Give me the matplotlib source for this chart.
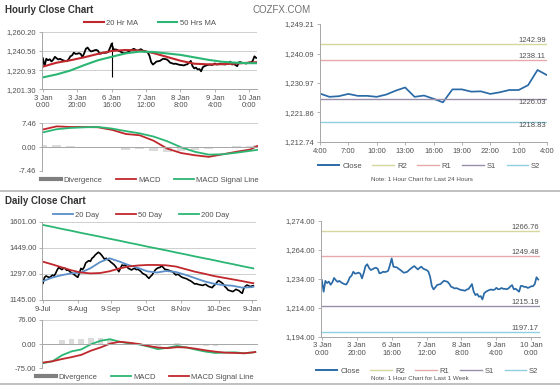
import matplotlib
matplotlib.use("Agg")
import matplotlib.pyplot as plt
import matplotlib.transforms as mtransforms
from matplotlib.lines import Line2D

plt.rcParams['font.family'] = ['Liberation Sans', 'DejaVu Sans']

# ---------------- hourly data: 3 Jan 0:00 .. 10 Jan 4:00 ----------------
hourly_close = [
    1233.0, 1225.0, 1232.5, 1231.0, 1232.0, 1229.8, 1231.5, 1234.5, 1233.0, 1231.8,
    1232.5, 1231.5, 1230.8, 1230.2, 1230.0, 1232.0, 1235.0, 1236.0, 1238.8, 1237.5,
    1237.7, 1238.2, 1237.5, 1234.2, 1238.0, 1242.7, 1244.0, 1241.5, 1240.0, 1240.5,
    1241.2, 1241.6, 1240.8, 1237.7, 1238.0, 1238.8, 1238.6, 1238.8, 1239.5, 1243.4,
    1248.0, 1242.3, 1242.0, 1241.8, 1240.8, 1240.0, 1239.0, 1238.1, 1238.4, 1238.8,
    1240.0, 1241.0, 1242.0, 1242.7, 1241.5, 1240.4, 1241.5, 1242.3, 1241.0, 1240.4,
    1240.0, 1239.0, 1235.5, 1229.0, 1226.6, 1228.0, 1229.6, 1230.0, 1230.3, 1231.5,
    1232.6, 1232.2, 1231.9, 1230.5, 1228.5, 1228.0, 1227.3, 1227.5, 1227.1, 1226.5,
    1226.2, 1226.0, 1225.7, 1226.5, 1226.9, 1228.5, 1230.3, 1225.0, 1222.7, 1223.5,
    1221.6, 1222.0, 1219.7, 1223.9, 1225.0, 1225.7, 1226.2, 1226.6, 1226.2, 1226.5,
    1227.7, 1226.7, 1226.9, 1227.6, 1227.0, 1227.0, 1226.7, 1227.4, 1228.6, 1229.6,
    1226.7, 1227.1, 1226.1, 1225.0, 1229.0, 1229.0, 1228.3, 1228.4, 1227.6, 1228.1,
    1228.8, 1228.8, 1230.3, 1235.0, 1233.4,
]
hourly_tick_pos = [0, 20, 40, 60, 80, 100, 120]
hourly_tick_labels = ["3 Jan\n0:00", "3 Jan\n20:00", "6 Jan\n16:00", "7 Jan\n12:00",
                      "8 Jan\n8:00", "9 Jan\n4:00", "10 Jan\n0:00"]
spike_idx, spike_low, spike_high = 40, 1213.5, 1250.0

ma_idx = [0, 8, 16, 24, 32, 40, 48, 56, 64, 72, 80, 88, 96, 104, 112, 120, 124]
ma20 = [1224.5, 1228.5, 1231.0, 1234.0, 1237.5, 1240.5, 1241.5, 1241.0, 1238.5,
        1234.5, 1230.5, 1227.5, 1226.8, 1227.0, 1227.5, 1228.5, 1229.0]
ma50 = [1213.5, 1216.5, 1220.5, 1226.0, 1231.0, 1234.5, 1238.0, 1239.8, 1239.5,
        1238.0, 1236.5, 1234.0, 1231.5, 1229.5, 1228.5, 1228.0, 1228.0]
h_macd = [5.5, 6.5, 6.3, 6.3, 6.2, 5.4, 4.1, 3.7, 2.0, -0.5, -1.9, -2.6, -3.1,
          -2.3, -1.5, -0.8, 0.3]
h_signal = [4.6, 5.6, 6.0, 6.2, 6.3, 5.8, 5.0, 4.3, 3.3, 1.8, -0.1, -1.5, -2.4,
            -2.3, -1.8, -1.2, -0.9]
h_div = [0.6, 0.5, 0.3, 0.1, -0.1, -0.4, -0.8, -0.6, -1.3, -1.6, -1.2, -1.0, -0.6,
         0.0, 0.3, 0.4, 0.5]

# last 24 hours (9 Jan 4:00 .. 10 Jan 4:00)
day_labels = ["4:00", "7:00", "10:00", "13:00", "16:00", "19:00", "22:00", "1:00", "4:00"]
pivots_24h = {"R2": 1242.99, "R1": 1238.11, "S1": 1226.03, "S2": 1218.83}
yt_24h = [1212.74, 1221.86, 1230.97, 1240.09, 1249.21]

pivots_wk = {"R2": 1266.76, "R1": 1249.48, "S1": 1215.19, "S2": 1197.17}
yt_wk = [1194, 1214, 1234, 1254, 1274]
yl_wk = ["1,194.00", "1,214.00", "1,234.00", "1,264.00", "1,274.00"]

# ---------------- daily data: 9 Jul .. 9 Jan ----------------
daily_close = [
    1242, 1277, 1285, 1280, 1276, 1282, 1290, 1285, 1300, 1320,
    1335, 1328, 1322, 1330, 1329, 1318, 1320, 1310, 1304, 1298,
    1291, 1284, 1277, 1300, 1329, 1322, 1335, 1360, 1368, 1374,
    1370, 1388, 1395, 1407, 1415, 1423, 1417, 1407, 1395, 1382,
    1388, 1380, 1374, 1365, 1358, 1350, 1339, 1325, 1310, 1330,
    1349, 1345, 1349, 1340, 1329, 1325, 1320, 1326, 1329, 1322,
    1324, 1318, 1310, 1300, 1295, 1291, 1280, 1271, 1282, 1291,
    1305, 1320, 1328, 1333, 1335, 1343, 1335, 1324, 1322, 1320,
    1316, 1312, 1310, 1300, 1291, 1295, 1291, 1283, 1277, 1274,
    1271, 1268, 1262, 1258, 1252, 1245, 1238, 1240, 1236, 1234,
    1232, 1230, 1234, 1236, 1228, 1223, 1220, 1217, 1228, 1236,
    1248, 1258, 1252, 1246, 1238, 1223, 1215, 1203, 1200, 1197,
    1194, 1200, 1207, 1203, 1199, 1190, 1184, 1213, 1225, 1232,
    1228, 1223, 1226, 1228,
]
daily_tick_pos = [0, 22, 43, 65, 87, 111, 132]
daily_tick_labels = ["9-Jul", "8-Aug", "9-Sep", "9-Oct", "8-Nov", "10-Dec", "9-Jan"]

d_idx = [0, 6, 12, 18, 24, 30, 36, 42, 48, 54, 60, 66, 72, 78, 84, 90, 96, 102,
         108, 114, 120, 126, 132, 133]
d_ma20 = [1255, 1276, 1290, 1300, 1305, 1330, 1365, 1388, 1370, 1349, 1332, 1312,
          1305, 1314, 1308, 1292, 1273, 1254, 1240, 1232, 1228, 1217, 1220, 1222]
d_ma50 = [1368, 1352, 1335, 1318, 1305, 1300, 1302, 1312, 1328, 1340, 1346, 1349,
          1349, 1347, 1340, 1325, 1310, 1298, 1285, 1275, 1265, 1255, 1244, 1243]
d_ma200 = [1582, 1571, 1559, 1548, 1536, 1525, 1514, 1502, 1491, 1479, 1468, 1456,
           1445, 1434, 1422, 1411, 1399, 1388, 1377, 1365, 1354, 1342, 1331, 1329]
d_macd = [-59, -53, -34, -22, -16, 0, 11, 16, 8, 3, 0, -7, -15, -11, -5, -10, -17,
          -23, -27, -26, -25, -28, -25, -24]
d_signal = [-57, -53, -46, -40, -33, -20, -10, 2, 8, 5, 1, -5, -10, -12, -9, -10,
            -14, -19, -23, -26, -27, -28, -25, -24]
d_div = [-2, 0, 12, 18, 17, 20, 21, 14, 0, -2, -1, -2, -5, 1, 4, 0, -3, -4, -4, 0,
         2, 0, 0, 0]

RED = "#c0282d"
GREEN = "#2bb673"
BLUE20 = "#5b8fc9"
CLOSE_BLUE = "#2a6aa6"
PIV_COLORS = {"R2": "#d6d69e", "R1": "#e6a9ab", "S1": "#9a8fa8", "S2": "#8fcfe0"}
TXT = "#505050"
GRID = "#c8c8c8"
FS = 5.5

W, H = 560, 385
fig = plt.figure(figsize=(W / 100, H / 100), dpi=100)


def add_ax(left, top, right, bottom):
    return fig.add_axes([left / W, 1 - bottom / H, (right - left) / W, (bottom - top) / H])


def style(ax, grid=True):
    for s in ["top", "right"]:
        ax.spines[s].set_visible(False)
    for s in ["left", "bottom"]:
        ax.spines[s].set_color("#a6a6a6")
        ax.spines[s].set_linewidth(0.7)
    ax.tick_params(labelsize=FS, colors=TXT, length=2.5, width=0.6, pad=1.5)
    ax.tick_params(axis="both", color="#a6a6a6")
    if grid:
        ax.yaxis.grid(True, color=GRID, lw=0.6)
        ax.set_axisbelow(True)


# ---- titles / separators ----
fig.text(5 / W, 1 - 10 / H, "Hourly Close Chart", fontsize=7, weight="bold",
         color="#333333", va="center")
fig.text(5 / W, 1 - 201 / H, "Daily Close Chart", fontsize=7, weight="bold",
         color="#333333", va="center")
fig.text(282 / W, 1 - 10 / H, "COZFX.COM", fontsize=7, color="#707070",
         ha="center", va="center")
fig.add_artist(Line2D([0, 1], [1 - 191 / H] * 2, color="#b5b5b5", lw=1.2))
fig.add_artist(Line2D([0, 1], [1 - 383.5 / H] * 2, color="#b5b5b5", lw=1.2))

# ---- hourly price with MAs ----
ax = add_ax(42, 31.7, 257, 89.3)
style(ax)
ax.plot(range(len(hourly_close)), hourly_close, color="black", lw=1.3)
ax.vlines(spike_idx, spike_low, spike_high, color="black", lw=0.8)
ax.plot(ma_idx, ma20, color=RED, lw=1.5)
ax.plot(ma_idx, ma50, color=GREEN, lw=1.5)
ax.set_ylim(1201.30, 1260.20)
ax.set_yticks([1201.30, 1220.93, 1240.56, 1260.20])
ax.set_yticklabels(["1,201.30", "1,220.93", "1,240.56", "1,260.20"])
ax.set_xlim(-0.5, 124.5)
ax.set_xticks(hourly_tick_pos)
ax.set_xticklabels(hourly_tick_labels, linespacing=1.1)
fig.legend([Line2D([], [], color=RED, lw=1.5), Line2D([], [], color=GREEN, lw=1.5)],
           ["20 Hr MA", "50 Hrs MA"], loc="center", bbox_to_anchor=(150 / W, 1 - 23 / H),
           ncol=2, frameon=False, fontsize=FS, handlelength=2.6, columnspacing=2.5,
           handletextpad=0.3, labelcolor=TXT)

# ---- hourly MACD ----
ax = add_ax(42, 123.3, 258, 170.7)
style(ax, grid=False)
ax.bar(ma_idx, h_div, width=5, color="#b0b0b0", alpha=0.45)
ax.plot(ma_idx, h_macd, color=RED, lw=1.3)
ax.plot(ma_idx, h_signal, color=GREEN, lw=1.3)
ax.axhline(7.46, color=GRID, lw=0.6)
ax.axhline(0, color="#a6a6a6", lw=0.7)
ax.set_ylim(-7.46, 7.46)
ax.set_yticks([-7.46, 0, 7.46])
ax.set_yticklabels(["-7.46", "0.00", "7.46"])
ax.set_xlim(-0.5, 124.5)
ax.set_xticks([])
ax.spines["bottom"].set_visible(False)
fig.legend([Line2D([], [], color="#7f7f7f", lw=3), Line2D([], [], color=RED, lw=1.3),
            Line2D([], [], color=GREEN, lw=1.3)],
           ["Divergence", "MACD", "MACD Signal Line"], loc="center",
           bbox_to_anchor=(150 / W, 1 - 180 / H), ncol=3, frameon=False, fontsize=FS,
           handlelength=2.6, columnspacing=1.8, handletextpad=0.3, labelcolor=TXT)


def pivot_chart(ax, x, y, pivots, above, color_close):
    style(ax, grid=False)
    ax.plot(x, y, color=color_close, lw=1.25)
    trans = mtransforms.blended_transform_factory(ax.transAxes, ax.transData)
    for name, val in pivots.items():
        ax.axhline(val, color=PIV_COLORS[name], lw=1.0)
        up = above[name]
        ax.text(0.995, val, f"{val:.2f}", transform=trans, ha="right",
                va="bottom" if up else "top", fontsize=FS, color=TXT)


# ---- last 24 hours ----
ax = add_ax(320, 24, 547, 142)
last24 = hourly_close[100:]
pivot_chart(ax, range(len(last24)), last24, pivots_24h,
            {"R2": True, "R1": True, "S1": False, "S2": False}, CLOSE_BLUE)
ax.set_ylim(yt_24h[0], yt_24h[-1])
ax.set_yticks(yt_24h)
ax.set_yticklabels([f"{v:,.2f}" for v in yt_24h])
ax.set_xlim(0, 24)
ax.set_xticks(range(0, 25, 3))
ax.set_xticklabels(day_labels)
handles = [Line2D([], [], color=CLOSE_BLUE, lw=1.4)] + \
          [Line2D([], [], color=PIV_COLORS[k], lw=1.0) for k in ["R2", "R1", "S1", "S2"]]
fig.legend(handles, ["Close", "R2", "R1", "S1", "S2"], loc="center",
           bbox_to_anchor=(429 / W, 1 - 166 / H), ncol=5, frameon=False, fontsize=FS,
           handlelength=2.8, columnspacing=1.4, handletextpad=0.4, labelcolor=TXT)
fig.text(422 / W, 1 - 179 / H, "Note: 1 Hour Chart for Last 24 Hours", fontsize=4.5,
         color=TXT, ha="center", va="center")

# ---- daily price with MAs ----
ax = add_ax(42, 221.7, 256, 300)
style(ax)
ax.plot(range(len(daily_close)), daily_close, color="black", lw=1.2)
ax.plot(d_idx, d_ma20, color=BLUE20, lw=1.3)
ax.plot(d_idx, d_ma50, color=RED, lw=1.3)
ax.plot(d_idx, d_ma200, color=GREEN, lw=1.3)
ax.set_ylim(1145, 1601)
ax.set_yticks([1145, 1297, 1449, 1601])
ax.set_yticklabels(["1145.00", "1297.00", "1449.00", "1601.00"])
ax.set_xlim(-0.6, 134.7)
ax.set_xticks(daily_tick_pos)
ax.set_xticklabels(daily_tick_labels)
fig.legend([Line2D([], [], color=BLUE20, lw=1.3), Line2D([], [], color=RED, lw=1.3),
            Line2D([], [], color=GREEN, lw=1.3)],
           ["20 Day", "50 Day", "200 Day"], loc="center",
           bbox_to_anchor=(141 / W, 1 - 215 / H), ncol=3, frameon=False, fontsize=FS,
           handlelength=2.6, columnspacing=2.2, handletextpad=0.3, labelcolor=TXT)

# ---- daily MACD ----
ax = add_ax(42, 320, 258, 368.3)
style(ax, grid=False)
ax.bar(d_idx, d_div, width=3.5, color="#b0b0b0", alpha=0.45)
ax.plot(d_idx, d_macd, color=GREEN, lw=1.3)
ax.plot(d_idx, d_signal, color=RED, lw=1.3)
ax.axhline(76, color=GRID, lw=0.6)
ax.axhline(0, color="#a6a6a6", lw=0.7)
ax.set_ylim(-75, 76)
ax.set_yticks([-75, 0, 76])
ax.set_yticklabels(["-75.00", "0.00", "76.00"])
ax.set_xlim(-0.6, 134.7)
ax.set_xticks([])
ax.spines["bottom"].set_visible(False)
fig.legend([Line2D([], [], color="#7f7f7f", lw=3), Line2D([], [], color=GREEN, lw=1.3),
            Line2D([], [], color=RED, lw=1.3)],
           ["Divergence", "MACD", "MACD Signal Line"], loc="center",
           bbox_to_anchor=(145 / W, 1 - 377 / H), ncol=3, frameon=False, fontsize=FS,
           handlelength=2.6, columnspacing=1.8, handletextpad=0.3, labelcolor=TXT)

# ---- last week hourly ----
ax = add_ax(321, 220.7, 540, 336.7)
pivot_chart(ax, range(len(hourly_close)), hourly_close, pivots_wk,
            {"R2": True, "R1": True, "S1": True, "S2": True}, CLOSE_BLUE)
ax.set_ylim(1194, 1274)
ax.set_yticks(yt_wk)
ax.set_yticklabels(yl_wk)
ax.set_xlim(-0.5, 125)
ax.set_xticks(hourly_tick_pos)
ax.set_xticklabels(hourly_tick_labels, linespacing=1.1)
fig.legend(handles, ["Close", "R2", "R1", "S1", "S2"], loc="center",
           bbox_to_anchor=(427 / W, 1 - 371 / H), ncol=5, frameon=False, fontsize=FS,
           handlelength=2.8, columnspacing=1.4, handletextpad=0.4, labelcolor=TXT)
fig.text(420 / W, 1 - 378 / H, "Note: 1 Hour Chart for Last 1 Week", fontsize=4.5,
         color=TXT, ha="center", va="center")

fig.savefig("out.png", dpi=100, facecolor="white")
